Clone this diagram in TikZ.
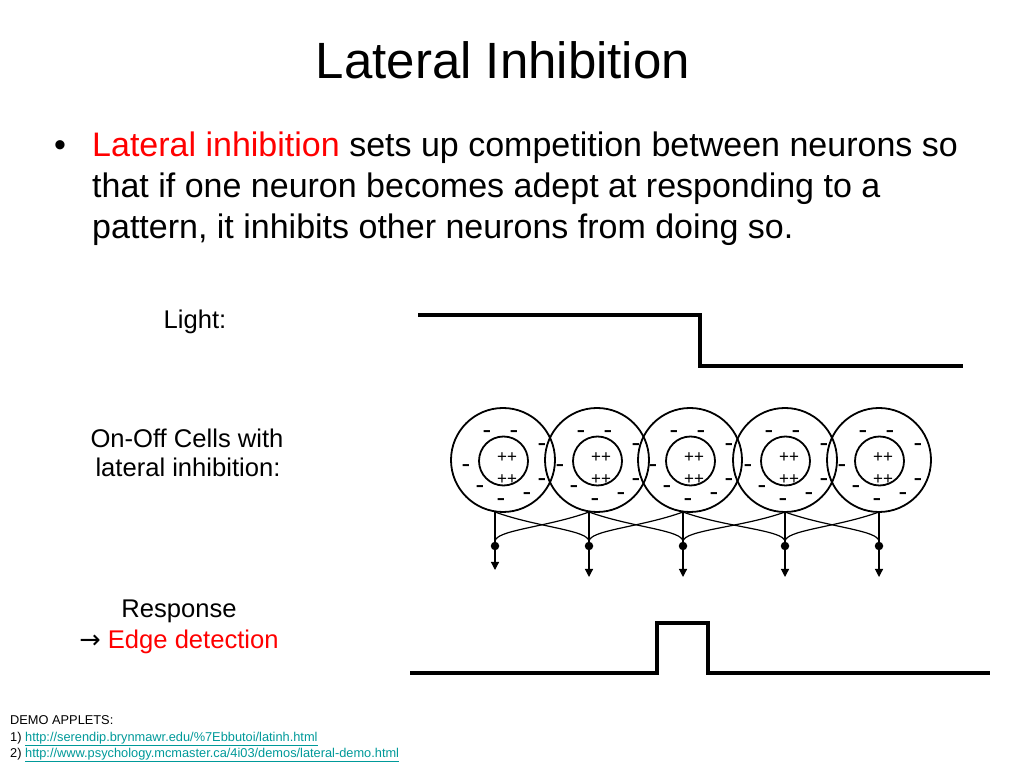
\documentclass[tikz,border=0pt]{standalone}
\usepackage{fontspec}
\setmainfont{Liberation Sans}
\newfontfamily\symfont{DejaVu Sans}
\usetikzlibrary{arrows.meta}
\definecolor{hilite}{RGB}{255,0,0}
\definecolor{linkcol}{RGB}{0,153,153}
\newcommand{\fs}[2]{\fontsize{#1}{#2}\selectfont}
\tikzset{
  cell/.style={circle, draw, line width=1.8pt, minimum size=104pt, inner sep=0pt},
  core/.style={circle, draw, line width=1.8pt, minimum size=49pt, inner sep=0pt},
  sign/.style={inner sep=0pt, font=\fs{17}{17}},
  minus/.style={inner sep=0pt, font=\fs{26}{26}, yshift=-3pt},
  dot/.style={circle, fill, inner sep=0pt, minimum size=8.5pt},
  wire/.style={line width=1.2pt},
  signal/.style={line width=3.5pt},
  body/.style={inner sep=0pt, font=\fs{34}{41}},
  sidetext/.style={inner sep=0pt, font=\fs{25.6}{30}},
  small/.style={inner sep=0pt, font=\fs{12.8}{15}}
}
\begin{document}
\begin{tikzpicture}[x=1pt,y=1pt]
\useasboundingbox (0,0) rectangle (1024,768);
% title and bullet
\node[anchor=base, inner sep=0pt] (title) at (503,689) {\fs{51}{61}Lateral Inhibition};
\node[body, anchor=base] (bullet) at (60,611) {•};
\node[body, anchor=base west] (line1) at (92,611) {\textcolor{hilite}{Lateral inhibition} sets up competition between neurons so};
\node[body, anchor=base west] (line2) at (92,570) {that if one neuron becomes adept at responding to a};
\node[body, anchor=base west] (line3) at (92,529) {pattern, it inhibits other neurons from doing so.};
% left side labels
\node[sidetext, anchor=base] (light) at (195,439) {Light:};
\node[sidetext, anchor=base] (cells1) at (187,320) {On-Off Cells with};
\node[sidetext, anchor=base] (cells2) at (188,291) {lateral inhibition:};
\node[sidetext, anchor=base] (resp1) at (179,150) {Response};
\node[sidetext, anchor=base] (resp2) at (179,120) {{\symfont →} \textcolor{hilite}{Edge detection}};
% light and response
\draw[signal] (418,453) -- (700,453) -- (700,402) -- (963,402);
\draw[signal] (410,95) -- (657,95) -- (657,145) -- (708,145) -- (708,95) -- (990,95);
% on-off cells
\foreach \n/\c/\w/\e in {1/503/495/198, 2/597/589/191, 3/690/683/191, 4/785/785/191, 5/879/879/191} {
  \node[cell] (cell\n) at (\c,308) {};
  \node[core] (core\n) at (\c+0.5,307) {};
  \node[sign] at (\c+4,310) {++};
  \node[sign] at (\c+4,288) {++};
  \foreach \dx/\dy in {-16/28, 11/28, 39/15, -37/-6, 39/-20, -23/-27, 24/-34, -2/-40}
    \node[minus] at (\c+\dx,308+\dy) {-};
  \coordinate (top\n) at (\w,256);
  \node[dot] (dot\n) at (\w,222) {};
  \coordinate (out\n) at (\w,\e);
  \draw[wire] (top\n) -- (dot\n);
  \draw[wire, -{Triangle[width=8pt,length=8pt]}] (dot\n) -- (out\n);
}
% lateral connections
\foreach \a/\b in {1/2, 2/3, 3/4, 4/5} {
  \draw[wire] (top\a) .. controls +(-20:45) and +(0,16) .. (dot\b);
  \draw[wire] (top\b) .. controls +(200:45) and +(0,16) .. (dot\a);
}
% demo applets
\node[small, anchor=base west] (demo) at (10,44) {DEMO APPLETS:};
\node[small, anchor=base west] (link1) at (10,27) {1) \textcolor{linkcol}{\underline{http://serendip.brynmawr.edu/\%7Ebbutoi/latinh.html}}};
\node[small, anchor=base west] (link2) at (10,11) {2) \textcolor{linkcol}{\underline{http://www.psychology.mcmaster.ca/4i03/demos/lateral-demo.html}}};
\end{tikzpicture}
\end{document}
